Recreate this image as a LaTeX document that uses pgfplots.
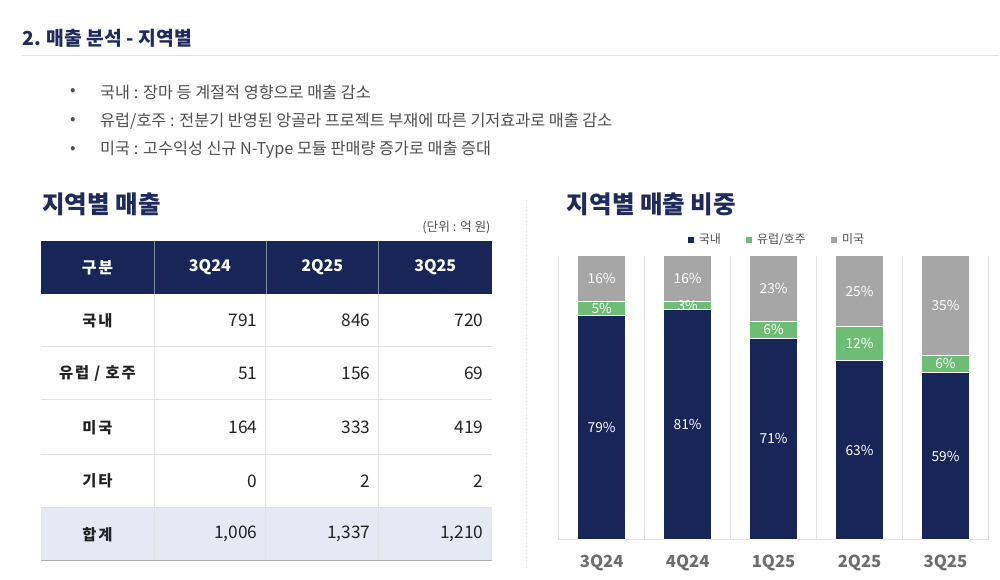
\documentclass[border=0pt]{standalone}
\usepackage{fontspec}
\setmainfont{Noto Sans CJK KR}
\newfontfamily\spacedfont[LetterSpace=12]{Noto Sans CJK KR}
\usepackage{pgfplots}
\usepackage{pgfplotstable}
\pgfplotsset{compat=1.18}

\definecolor{navy}{HTML}{172657}
\definecolor{titlenavy}{HTML}{1E2B5C}
\definecolor{eugreen}{HTML}{6DBE74}
\definecolor{usgray}{HTML}{A6A6A6}
\definecolor{bodytext}{HTML}{4F4F4F}
\definecolor{cellgray}{HTML}{222222}
\definecolor{totalrow}{HTML}{E6E9F3}
\definecolor{rulegray}{HTML}{E3E3E3}
\definecolor{catgray}{HTML}{6E6E6E}

% regional share of sales (%), quarter index in column x
\pgfplotstableread{
x dom eu us
0 79 5 16
1 81 3 16
2 71 6 23
3 63 12 25
4 59 6 35
}\sharetable

\begin{document}
\begin{tikzpicture}
\begin{scope}[x=0.75pt,y=-0.75pt]
\fill[white] (0,0) rectangle (1000,580);

% page heading
\node[anchor=west, inner sep=0, text=titlenavy,
      font=\fontsize{14.5}{17}\selectfont\bfseries] at (22,38) {2. 매출 분석 - 지역별};
\draw[rulegray, line width=0.8pt] (22,56) -- (1000,56);

% bullet notes
\begin{scope}[every node/.style={anchor=west, inner sep=0, text=bodytext,
      font=\fontsize{12.2}{14}\selectfont}]
\node at (70,92) {•};
\node at (100,92) {국내 : 장마 등 계절적 영향으로 매출 감소};
\node at (70,121) {•};
\node at (100,121) {유럽/호주 : 전분기 반영된 앙골라 프로젝트 부재에 따른 기저효과로 매출 감소};
\node at (70,150) {•};
\node at (100,150) {미국 : 고수익성 신규 N-Type 모듈 판매량 증가로 매출 증대};
\end{scope}

% section titles
\node[anchor=west, inner sep=0, text=titlenavy,
      font=\fontsize{18.4}{21}\selectfont\bfseries] at (42,204) {지역별 매출};
\node[anchor=west, inner sep=0, text=titlenavy,
      font=\fontsize{18.4}{21}\selectfont\bfseries] at (567,204) {지역별 매출 비중};
\node[anchor=east, inner sep=0, text=bodytext,
      font=\fontsize{9.5}{11}\selectfont] at (491,228) {(단위 : 억 원)};

% faint divider between the two panels
\draw[rulegray, dotted, line width=0.6pt] (527,200) -- (527,570);

% ---- sales table ----
\fill[navy] (41,241) rectangle (492,294);
\fill[totalrow] (41,508) rectangle (492,561);
\foreach \cx in {154,266,379} {
  \draw[white!45!navy, line width=0.5pt] (\cx,241) -- (\cx,294);
  \draw[rulegray, line width=0.6pt] (\cx,294) -- (\cx,561);
}
\foreach \ry in {347,400,455,508} {
  \draw[rulegray, line width=0.6pt] (41,\ry) -- (492,\ry);
}
\draw[black!30, line width=1pt] (41,561) -- (492,561);

\begin{scope}[every node/.style={inner sep=0, text=white,
      font=\fontsize{12}{14}\selectfont\bfseries}]
\node at (97.5,267.5) {\spacedfont 구분};
\node at (210,267.5) {3Q24};
\node at (322.5,267.5) {2Q25};
\node at (435.5,267.5) {3Q25};
\end{scope}

\begin{scope}[every node/.style={inner sep=0, text=cellgray,
      font=\fontsize{11.5}{14}\selectfont\bfseries}]
\node at (97.5,320.5) {\spacedfont 국내};
\node at (97.5,373.5) {\spacedfont 유럽 / 호주};
\node at (97.5,427.5) {\spacedfont 미국};
\node at (97.5,481.5) {\spacedfont 기타};
\node at (97.5,534.5) {\spacedfont 합계};
\end{scope}

\begin{scope}[every node/.style={anchor=east, inner sep=0, text=cellgray,
      font=\fontsize{13}{15}\selectfont}]
\node at (258,320.5) {791};   \node at (371,320.5) {846};   \node at (484,320.5) {720};
\node at (258,373.5) {51};    \node at (371,373.5) {156};   \node at (484,373.5) {69};
\node at (258,427.5) {164};   \node at (371,427.5) {333};   \node at (484,427.5) {419};
\node at (258,481.5) {0};     \node at (371,481.5) {2};     \node at (484,481.5) {2};
\node at (258,534.5) {1,006}; \node at (371,534.5) {1,337}; \node at (484,534.5) {1,210};
\end{scope}
\end{scope}

% ---- share chart ----
\begin{axis}[
  at={(419.25pt,-405pt)}, anchor=south west,
  scale only axis, width=322.5pt, height=213pt,
  xmin=-0.5, xmax=4.5, ymin=0, ymax=100,
  enlargelimits=false,
  ybar stacked, bar width=36pt,
  axis x line*=bottom, axis y line=none,
  x axis line style={draw=rulegray, line width=0.8pt, -},
  xtick={0,1,2,3,4},
  xticklabels={3Q24,4Q24,1Q25,2Q25,3Q25},
  major tick length=0pt, minor tick length=0pt,
  minor xtick={-0.5,0.5,1.5,2.5,3.5,4.5},
  xminorgrids, minor grid style={draw=rulegray, line width=0.6pt},
  xticklabel style={text=catgray, yshift=-7.5pt,
    font=\fontsize{12.5}{14}\selectfont\bfseries},
  /pgf/number format/assume math mode=true,
  point meta=explicit,
  nodes near coords={\pgfmathprintnumber{\pgfplotspointmeta}\%},
  nodes near coords style={text=white, anchor=center,
    font=\fontsize{10.3}{12}\selectfont},
  legend columns=3,
  legend style={at={(0.509,1.056)}, anchor=center, draw=none, fill=none,
    font=\fontsize{9}{11}\selectfont, text=bodytext, inner sep=0pt,
    /tikz/every odd column/.append style={column sep=1.5pt},
    /tikz/every even column/.append style={column sep=17pt}},
  legend image code/.code={\fill[#1, draw=none] (0pt,-2.3pt) rectangle (4.6pt,2.3pt);},
]
\addplot[fill=navy, draw=white, line width=0.8pt]
  table[x=x, y=dom, meta=dom] {\sharetable};
\addlegendentry{국내}
\addplot[fill=eugreen, draw=white, line width=0.8pt]
  table[x=x, y=eu, meta=eu] {\sharetable};
\addlegendentry{유럽/호주}
\addplot[fill=usgray, draw=white, line width=0.8pt]
  table[x=x, y=us, meta=us] {\sharetable};
\addlegendentry{미국}
\end{axis}
\end{tikzpicture}
\end{document}
